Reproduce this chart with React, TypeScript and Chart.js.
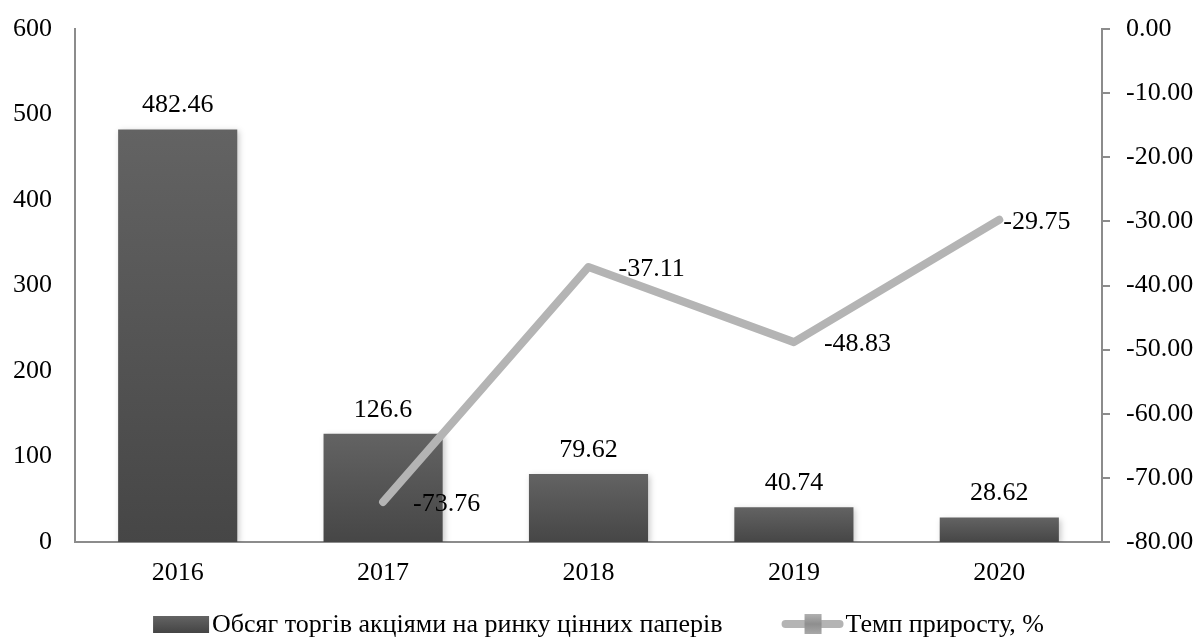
import React, { useEffect, useRef } from "react";
import { Chart, registerables } from "chart.js";

Chart.register(...registerables);

const categories = ["2016", "2017", "2018", "2019", "2020"];
const volumeValues = [482.46, 126.6, 79.62, 40.74, 28.62];
const growthValues: (number | null)[] = [null, -73.76, -37.11, -48.83, -29.75];
const volumeLabel = "Обсяг торгів акціями на ринку цінних паперів";
const growthLabel = "Темп приросту, %";
const leftTicks = { min: 0, max: 600, step: 100 };
const rightTicks = { min: -80, max: 0, step: 10 };

const FONT = '"Liberation Serif", "Times New Roman", serif';
const FS = 26;
const AXIS_COLOR = "#8c8c8c";
const LINE_COLOR = "#b4b4b4";

const labelPlugin = {
  id: "valueLabels",
  beforeDatasetDraw(chart: any, args: any) {
    if (args.meta.type === "bar") {
      const ctx = chart.ctx;
      ctx.save();
      ctx.shadowColor = "rgba(0,0,0,0.22)";
      ctx.shadowBlur = 6;
      ctx.shadowOffsetX = 2;
      ctx.shadowOffsetY = 2;
    }
  },
  afterDatasetDraw(chart: any, args: any) {
    if (args.meta.type === "bar") chart.ctx.restore();
  },
  afterDatasetsDraw(chart: any) {
    const ctx = chart.ctx;
    ctx.save();
    ctx.font = `${FS}px ${FONT}`;
    ctx.fillStyle = "#000";
    ctx.textBaseline = "middle";
    chart.data.datasets.forEach((ds: any, i: number) => {
      const meta = chart.getDatasetMeta(i);
      meta.data.forEach((el: any, j: number) => {
        const v = ds.data[j];
        if (v === null || v === undefined) return;
        if (meta.type === "bar") {
          ctx.textAlign = "center";
          ctx.fillText(String(v), el.x, el.y - 24);
        } else {
          const dx = j === ds.data.length - 1 ? 4 : 30;
          ctx.textAlign = "left";
          ctx.fillText(Number(v).toFixed(2), el.x + dx, el.y + 2);
        }
      });
    });
    ctx.restore();
  },
  afterDraw(chart: any) {
    const ctx = chart.ctx;
    ctx.save();
    ctx.font = `${FS}px ${FONT}`;
    ctx.fillStyle = "#000";
    ctx.textBaseline = "middle";
    ctx.textAlign = "left";
    const cy = 624;
    const t1 = ctx.measureText(volumeLabel).width;
    const t2 = ctx.measureText(growthLabel).width;
    const box1 = 56, gap1 = 3, sep = 59, box2 = 62, gap2 = 2;
    const total = box1 + gap1 + t1 + sep + box2 + gap2 + t2;
    let x = (chart.width - total) / 2;
    const g = ctx.createLinearGradient(0, cy - 9, 0, cy + 9);
    g.addColorStop(0, "#666");
    g.addColorStop(1, "#444");
    ctx.fillStyle = g;
    ctx.fillRect(x, cy - 8, box1, 17);
    x += box1 + gap1;
    ctx.fillStyle = "#000";
    ctx.fillText(volumeLabel, x, cy + 1);
    x += t1 + sep;
    ctx.strokeStyle = LINE_COLOR;
    ctx.lineWidth = 8;
    ctx.lineCap = "round";
    ctx.beginPath();
    ctx.moveTo(x + 4, cy);
    ctx.lineTo(x + box2 - 4, cy);
    ctx.stroke();
    const sq = ctx.createLinearGradient(0, cy - 10, 0, cy + 10);
    sq.addColorStop(0, "#b0b0b0");
    sq.addColorStop(0.5, "#8e8e8e");
    sq.addColorStop(1, "#a8a8a8");
    ctx.fillStyle = sq;
    ctx.fillRect(x + box2 / 2 - 8, cy - 10, 17, 20);
    x += box2 + gap2;
    ctx.fillStyle = "#000";
    ctx.fillText(growthLabel, x, cy + 1);
    ctx.restore();
  },
};

export default function App() {
  const ref = useRef<HTMLCanvasElement | null>(null);
  useEffect(() => {
    if (!ref.current) return;
    Chart.defaults.font.family = FONT;
    Chart.defaults.font.size = FS;
    Chart.defaults.color = "#000";
    const chart = new Chart(ref.current, {
      type: "bar",
      data: {
        labels: categories,
        datasets: [
          {
            type: "line",
            label: growthLabel,
            data: growthValues,
            yAxisID: "y1",
            borderColor: LINE_COLOR,
            backgroundColor: LINE_COLOR,
            borderWidth: 8,
            borderCapStyle: "round",
            borderJoinStyle: "round",
            pointRadius: 0,
            order: 0,
          } as any,
          {
            type: "bar",
            label: volumeLabel,
            data: volumeValues,
            yAxisID: "y",
            categoryPercentage: 1,
            barPercentage: 0.58,
            order: 1,
            backgroundColor: (c: any) => {
              const ch = c.chart;
              if (!ch.chartArea || c.type !== "data") return "#555";
              const ys = ch.scales.y;
              const top = ys.getPixelForValue(c.raw);
              const bottom = ys.getPixelForValue(0);
              const gr = ch.ctx.createLinearGradient(0, top, 0, bottom);
              gr.addColorStop(0, "#636363");
              gr.addColorStop(1, "#464646");
              return gr;
            },
          } as any,
        ],
      },
      options: {
        animation: false,
        responsive: true,
        maintainAspectRatio: false,
        layout: { padding: { top: 29, left: 0, right: 0, bottom: 49 } },
        plugins: { legend: { display: false }, tooltip: { enabled: false } },
        scales: {
          x: {
            offset: true,
            grid: { display: false, drawTicks: false },
            border: { display: true, color: AXIS_COLOR, width: 2 },
            ticks: { padding: 16, font: { size: FS }, color: "#000" },
            afterFit: (s: any) => {
              s.height = 50;
              s.paddingLeft = 0;
              s.paddingRight = 0;
            },
          },
          y: {
            position: "left",
            min: leftTicks.min,
            max: leftTicks.max,
            ticks: { stepSize: leftTicks.step, padding: 23, color: "#000", font: { size: FS } },
            grid: { display: false, drawTicks: false },
            border: { display: true, color: AXIS_COLOR, width: 2 },
            afterFit: (s: any) => {
              s.width = 75;
              s.paddingTop = 0;
              s.paddingBottom = 0;
            },
          },
          y1: {
            position: "right",
            min: rightTicks.min,
            max: rightTicks.max,
            ticks: {
              stepSize: rightTicks.step,
              padding: 16,
              color: "#000",
              font: { size: FS },
              callback: (v: any) => Number(v).toFixed(2),
            },
            grid: {
              drawOnChartArea: false,
              drawTicks: true,
              tickLength: 8,
              color: AXIS_COLOR,
              lineWidth: 2,
            },
            border: { display: true, color: AXIS_COLOR, width: 2 },
            afterFit: (s: any) => {
              s.width = 95;
              s.paddingTop = 0;
              s.paddingBottom = 0;
            },
          },
        },
      },
      plugins: [labelPlugin],
    });
    return () => chart.destroy();
  }, []);
  return (
    <div style={{ position: "fixed", left: 0, top: 0, width: 1197, height: 641, background: "#fff" }}>
      <canvas ref={ref} />
    </div>
  );
}
